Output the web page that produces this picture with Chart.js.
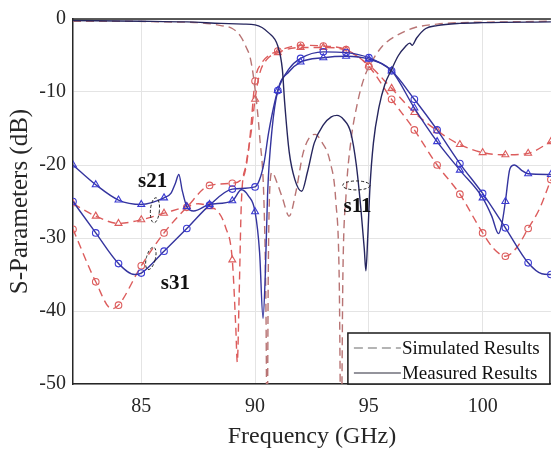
<!DOCTYPE html>
<html>
<head>
<meta charset="utf-8">
<script src="https://cdn.jsdelivr.net/npm/chart.js@4.4.1/dist/chart.umd.min.js"></script>
<style>
  html, body { margin: 0; padding: 0; background: #fff; }
  #wrap { width: 556px; height: 453px; position: relative; }
</style>
</head>
<body>
<div id="wrap"><canvas id="chart"></canvas></div>
<script>
// ===== DATA (frequency in GHz, level in dB) =====
const X_TICKS = [85, 90, 95, 100];
const Y_TICKS = [0, -10, -20, -30, -40, -50];

// simulated S11 (no markers)
const F_S11_SIM = [82, 84, 86, 87.5, 88.5, 89, 89.35, 89.6, 89.8, 90, 90.2, 90.4, 90.48, 90.53, 90.58, 90.65, 90.75, 90.95, 91.2, 91.5, 91.8, 92.1, 92.4, 92.65, 92.9, 93.3, 93.55, 93.7, 93.78, 93.86, 94, 94.2, 94.5, 94.8, 95.1, 95.6, 96.2, 97, 98, 99, 101, 103];
const S11_SIM = [-0.3, -0.3, -0.4, -0.5, -0.9, -1.3, -2.3, -3.8, -5.5, -9.6, -16, -26, -40, -60, -35, -23, -21, -22.3, -24.5, -27, -23.6, -18.5, -16.2, -15.8, -16.7, -19.6, -25, -36, -60, -35, -24, -17, -11.5, -8, -6, -3.7, -2.3, -1.2, -0.7, -0.5, -0.4, -0.3];

// measured S11 (no markers)
const F_S11_MEAS = [82, 85, 87, 88.5, 89.5, 90, 90.6, 91, 91.2, 91.3, 91.5, 91.75, 92.05, 92.3, 92.6, 93, 93.35, 93.6, 93.9, 94.2, 94.45, 94.65, 94.8, 94.87, 94.95, 95.05, 95.2, 95.45, 95.7, 96, 96.3, 96.6, 96.8, 96.9, 97.1, 97.5, 98, 99, 100, 103];
const S11_MEAS = [-0.2, -0.3, -0.4, -0.6, -0.7, -0.8, -1.9, -3.7, -6.9, -11.4, -18.2, -22, -23.6, -21, -17, -14.5, -13.4, -13.2, -13.8, -15.5, -20, -26, -31.5, -34.5, -30, -23, -17, -12, -9, -6.9, -5, -3.8, -3.3, -3.6, -2.6, -1.3, -0.9, -0.6, -0.5, -0.4];

// simulated S21 (triangles at whole GHz)
const F_S21_SIM = [82, 83, 84, 85, 86, 87, 87.5, 88, 88.4, 88.7, 89, 89.15, 89.22, 89.3, 89.4, 89.6, 89.85, 90, 90.2, 90.5, 91, 92, 93, 94, 95, 96, 97, 98, 99, 100, 101, 102, 103];
const S21_SIM = [-25.3, -27, -28, -27.5, -26.6, -25.7, -25.3, -25.7, -26.5, -28.5, -33, -42, -47, -38, -25, -20, -15, -11, -7.5, -5.6, -4.6, -3.9, -3.9, -4.3, -6.3, -9.5, -12.8, -15.3, -17.2, -18.3, -18.6, -18.4, -16.8];

// measured S21 (triangles at whole GHz)
const F_S21_MEAS = [82, 83, 84, 85, 86, 86.3, 86.5, 86.65, 86.8, 87, 87.3, 88, 89, 89.4, 89.7, 90, 90.2, 90.35, 90.45, 90.55, 90.75, 91, 91.5, 92, 93, 94, 95, 96, 97, 98, 99, 100, 100.4, 100.7, 100.85, 101, 101.2, 101.4, 101.7, 102, 103];
const S21_MEAS = [-20, -22.7, -24.8, -25.4, -24.5, -23.9, -22.5, -21.3, -23.5, -25.7, -26.3, -25.4, -24.9, -23.4, -24.2, -26.4, -32, -41, -35, -24, -15, -9.8, -7.2, -5.9, -5.3, -5.1, -5.5, -7.1, -12.2, -16.8, -20.7, -24.5, -27, -29.4, -28, -25, -20.5, -20, -20.7, -21.2, -21.3];

// simulated S31 (circles at whole GHz)
const F_S31_SIM = [82, 83, 83.7, 84, 85, 86, 87, 88, 89, 89.5, 89.75, 90, 90.3, 90.6, 91, 92, 93, 94, 95, 96, 97, 98, 99, 100, 100.5, 101, 101.5, 102, 102.5, 103];
const S31_SIM = [-28.8, -36, -39.7, -39.2, -33.8, -29.3, -25.8, -22.8, -22.5, -21.5, -17, -8.5, -6, -5, -4.4, -3.6, -3.7, -4.2, -6.5, -11, -15.2, -20, -24, -29.3, -31.5, -32.5, -31.3, -28.7, -26, -22];

// measured S31 (circles at whole GHz)
const F_S31_MEAS = [82, 83, 84, 84.7, 85, 86, 87, 88, 89, 90, 90.2, 90.4, 90.6, 91, 91.5, 92, 93, 94, 95, 96, 97, 98, 99, 100, 101, 102, 102.6, 103];
const S31_MEAS = [-25, -29.3, -33.5, -35, -34.8, -31.8, -28.7, -25.5, -23.3, -23, -22, -19.6, -15.5, -9.8, -6.8, -5.4, -4.5, -4.6, -5.3, -7.1, -11, -15.2, -19.8, -23.9, -28.6, -33.4, -34.9, -35];

// annotations: label, position of label, position of the dashed ring
const NOTE_LABELS = ['s21', 's31', 's11'];
const NOTE_FREQ = [85.5, 86.5, 94.5];
const NOTE_DB = [-22.3, -36.3, -25.7];
const RING_FREQ = [85.6, 85.42, 94.45];
const RING_DB = [-26.2, -32.8, -22.8];

// ===== STYLE =====
const SERIF = "'Liberation Serif', 'Times New Roman', serif";
const SIM_RED = '#dc5c5c';
const SIM_S11 = '#b87474';
const MEAS_BLUE = '#34349e';
const MEAS_S11 = '#26265e';
const MARK_BLUE = '#3a3ad2';

const pts = (xs, ys) => xs.map((x, i) => ({ x: x, y: ys[i] }));
const markAt = r => ctx => (ctx.raw && Number.isInteger(ctx.raw.x)) ? r : 0;

function series(label, xs, ys, color, opts) {
    return Object.assign({
        label: label,
        data: pts(xs, ys),
        borderColor: color,
        borderWidth: 1.4,
        backgroundColor: 'rgba(0,0,0,0)',
        pointRadius: 0,
        pointHoverRadius: 0,
        cubicInterpolationMode: 'monotone',
        fill: false
    }, opts);
}

const datasets = [
    series('S11 sim', F_S11_SIM, S11_SIM, SIM_S11, { borderDash: [8, 5], order: 2 }),
    series('S21 sim', F_S21_SIM, S21_SIM, SIM_RED, {
        borderDash: [8, 5], order: 2, pointStyle: 'triangle',
        pointRadius: markAt(4), pointBorderColor: SIM_RED, pointBorderWidth: 1.1,
        pointBackgroundColor: 'rgba(255,255,255,0)'
    }),
    series('S31 sim', F_S31_SIM, S31_SIM, SIM_RED, {
        borderDash: [8, 5], order: 2, pointStyle: 'circle',
        pointRadius: markAt(3.3), pointBorderColor: SIM_RED, pointBorderWidth: 1.1,
        pointBackgroundColor: 'rgba(255,255,255,0)'
    }),
    series('S11 meas', F_S11_MEAS, S11_MEAS, MEAS_S11, { order: 1 }),
    series('S21 meas', F_S21_MEAS, S21_MEAS, MEAS_BLUE, {
        order: 1, pointStyle: 'triangle',
        pointRadius: markAt(4), pointBorderColor: MARK_BLUE, pointBorderWidth: 1.1,
        pointBackgroundColor: 'rgba(255,255,255,0)'
    }),
    series('S31 meas', F_S31_MEAS, S31_MEAS, MEAS_BLUE, {
        order: 1, pointStyle: 'circle',
        pointRadius: markAt(3.3), pointBorderColor: MARK_BLUE, pointBorderWidth: 1.1,
        pointBackgroundColor: 'rgba(255,255,255,0)'
    })
];

// ===== PLUGINS =====
// white page + top frame line
const frame = {
    id: 'frame',
    beforeDraw(chart) {
        const c = chart.ctx;
        c.save();
        c.fillStyle = '#fff';
        c.fillRect(0, 0, chart.width, chart.height);
        c.restore();
    },
    afterDraw(chart) {
        const { ctx: c, chartArea: a } = chart;
        c.save();
        c.strokeStyle = '#262626';
        c.lineWidth = 1.5;
        c.beginPath();
        c.moveTo(a.left, a.top);
        c.lineTo(a.right, a.top);
        c.stroke();
        c.restore();
    }
};

// s21 / s31 / s11 labels with dashed rings
const notes = {
    id: 'notes',
    afterDatasetsDraw(chart) {
        const c = chart.ctx;
        const xs = chart.scales.x, ys = chart.scales.y;
        const rings = [[4.5, 12.5, 0.08], [4.5, 11.5, 0.25], [13.7, 4.5, 0]];
        c.save();
        c.strokeStyle = '#222';
        c.lineWidth = 1;
        c.setLineDash([3, 2]);
        RING_FREQ.forEach((f, i) => {
            const [rx, ry, rot] = rings[i];
            c.beginPath();
            c.ellipse(xs.getPixelForValue(f), ys.getPixelForValue(RING_DB[i]), rx, ry, rot, 0, Math.PI * 2);
            c.stroke();
        });
        c.setLineDash([]);
        c.fillStyle = '#111';
        c.font = 'bold 21px ' + SERIF;
        c.textAlign = 'center';
        c.textBaseline = 'middle';
        NOTE_LABELS.forEach((t, i) => {
            c.fillText(t, xs.getPixelForValue(NOTE_FREQ[i]), ys.getPixelForValue(NOTE_DB[i]));
        });
        c.restore();
    }
};

// boxed legend in the lower right corner
const boxLegend = {
    id: 'boxLegend',
    afterDraw(chart) {
        const { ctx: c, chartArea: a } = chart;
        const w = 202, h = 51;
        const x0 = a.right - w - 1, y0 = a.bottom - h;
        c.save();
        c.fillStyle = '#fff';
        c.fillRect(x0, y0, w, h);
        c.strokeStyle = '#1a1a1a';
        c.lineWidth = 1.5;
        c.strokeRect(x0, y0, w, h);
        const rows = [
            { text: 'Simulated Results', color: '#6a6a6a', dash: [9, 5] },
            { text: 'Measured Results', color: '#2a2a3a', dash: [] }
        ];
        c.font = '19px ' + SERIF;
        c.textBaseline = 'middle';
        c.textAlign = 'left';
        rows.forEach((r, i) => {
            const y = y0 + 15 + i * 25;
            c.strokeStyle = r.color;
            c.lineWidth = 1.2;
            c.setLineDash(r.dash);
            c.beginPath();
            c.moveTo(x0 + 6, y);
            c.lineTo(x0 + 53, y);
            c.stroke();
            c.setLineDash([]);
            c.fillStyle = '#111';
            c.fillText(r.text, x0 + 54, y + 1);
        });
        c.restore();
    }
};

// ===== CHART =====
new Chart(document.getElementById('chart'), {
    type: 'line',
    data: { datasets: datasets },
    options: {
        responsive: true,
        maintainAspectRatio: false,
        devicePixelRatio: 1,
        animation: false,
        events: [],
        layout: { padding: { top: 16, right: 0, left: 0, bottom: 0 } },
        plugins: { legend: { display: false }, tooltip: { enabled: false } },
        scales: {
            x: {
                type: 'linear',
                min: 82,
                max: 103,
                afterBuildTicks: s => { s.ticks = X_TICKS.map(v => ({ value: v })); },
                afterFit: s => { s.height = 69; },
                grid: { color: '#e4e4e4', lineWidth: 1, drawTicks: false },
                border: { display: true, color: '#262626', width: 1.5 },
                ticks: { color: '#262626', padding: 11, font: { family: SERIF, size: 20 } },
                title: {
                    display: true, text: 'Frequency (GHz)', color: '#262626',
                    font: { family: SERIF, size: 24 }, padding: { top: 0, bottom: 2 }
                }
            },
            y: {
                min: -50,
                max: 0,
                afterBuildTicks: s => { s.ticks = Y_TICKS.map(v => ({ value: v })); },
                afterFit: s => { s.width = 73; },
                grid: { color: '#e4e4e4', lineWidth: 1, drawTicks: false },
                border: { display: true, color: '#262626', width: 1.5 },
                ticks: { color: '#262626', padding: 7, font: { family: SERIF, size: 20 } },
                title: {
                    display: true, text: 'S-Parameters (dB)', color: '#262626',
                    font: { family: SERIF, size: 25 }, padding: { top: 5, bottom: 0 }
                }
            }
        }
    },
    plugins: [frame, notes, boxLegend]
});
</script>
</body>
</html>
